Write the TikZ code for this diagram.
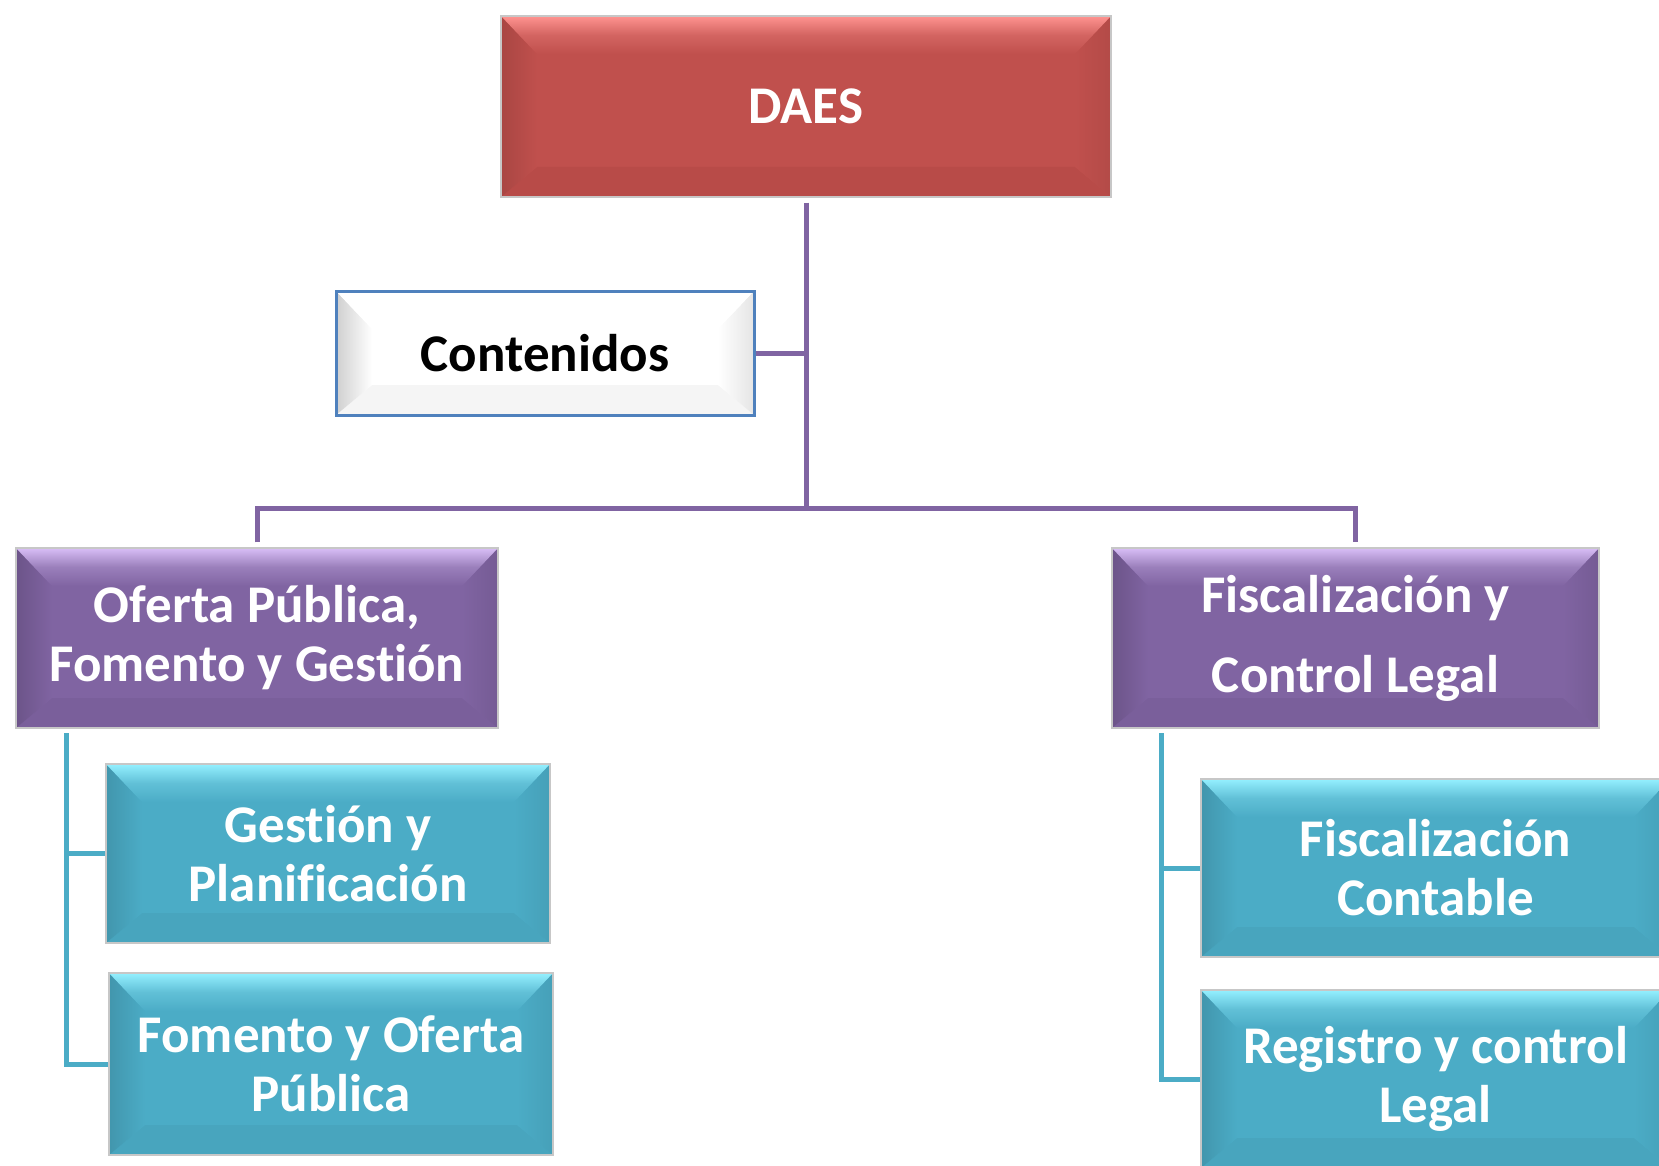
\documentclass[tikz,border=0pt]{standalone}
\usepackage{fontspec}
\setmainfont{Carlito}[Ligatures=NoCommon]
\usetikzlibrary{calc}
\definecolor{redbase}{HTML}{C0504D}
\definecolor{redtop}{HTML}{FF9390}
\definecolor{redside}{HTML}{A94643}
\definecolor{redbot}{HTML}{B84B48}
\definecolor{purbase}{HTML}{8064A2}
\definecolor{purtop}{HTML}{D8BEF6}
\definecolor{purside}{HTML}{6C5489}
\definecolor{purbot}{HTML}{7A5F9B}
\definecolor{cyabase}{HTML}{4BACC6}
\definecolor{cyatop}{HTML}{94F0FF}
\definecolor{cyaside}{HTML}{4296AD}
\definecolor{cyabot}{HTML}{48A5BE}
\definecolor{contbord}{HTML}{4F81BD}
\definecolor{contside}{HTML}{CFCFCF}
\definecolor{lpur}{HTML}{8064A2}
\definecolor{lcya}{HTML}{4BACC6}
\tikzset{
  bevelbox/.style n args={4}{rectangle, inner sep=0pt, fill=#1,
    draw=black!22, line width=1.2pt, align=center,
    font=\fontsize{53}{59}\selectfont\bfseries, text=white,
    path picture={
      \coordinate (pNW) at (path picture bounding box.north west);
      \coordinate (pNE) at (path picture bounding box.north east);
      \coordinate (pSW) at (path picture bounding box.south west);
      \coordinate (pSE) at (path picture bounding box.south east);
      \coordinate (iNW) at ($(pNW)+(36pt,-38pt)$);
      \coordinate (iNE) at ($(pNE)+(-36pt,-38pt)$);
      \coordinate (iSW) at ($(pSW)+(36pt,30pt)$);
      \coordinate (iSE) at ($(pSE)+(-36pt,30pt)$);
      \fill[#4] (pSW) -- (iSW) -- (iSE) -- (pSE) -- cycle;
      \shade[left color=#3, right color=#1] (pNW) -- (iNW) -- (iSW) -- (pSW) -- cycle;
      \shade[left color=#1, right color=#3!55!#1] (pNE) -- (iNE) -- (iSE) -- (pSE) -- cycle;
      \shade[top color=#2, bottom color=#1, middle color=#1!70!#2] (pNW) -- (pNE) -- (iNE) -- (iNW) -- cycle;
    }},
  redbox/.style={bevelbox={redbase}{redtop}{redside}{redbot}},
  purbox/.style={bevelbox={purbase}{purtop}{purside}{purbot}},
  cyabox/.style={bevelbox={cyabase}{cyatop}{cyaside}{cyabot}},
  contbox/.style={bevelbox={white}{white}{contside}{white!96!black}, draw=contbord, line width=3pt, text=black},
  pline/.style={draw=lpur, line width=5pt, line join=miter},
  cline/.style={draw=lcya, line width=5pt, line join=miter}
}
\begin{document}
\begin{tikzpicture}[x=1pt,y=-1pt]
\clip (0,0) rectangle (1659,1166);
\fill[white] (0,0) rectangle (1659,1166);

\node[redbox, minimum width=610pt, minimum height=181pt] (daes) at (806,106.5) {DAES};
\node[contbox, minimum width=418pt, minimum height=124pt] (cont) at (545,353) {Contenidos};
\node[purbox, minimum width=482pt, minimum height=180pt] (ofp) at (257,638) {Oferta Pública,\\Fomento y Gestión};
\node[purbox, minimum width=487pt, minimum height=180pt] (fcl) at (1355.5,638) {Fiscalización y\\[21pt]Control Legal};
\node[cyabox, minimum width=444pt, minimum height=179pt] (gp) at (328,853.5) {Gestión y\\Planificación};
\node[cyabox, minimum width=444pt, minimum height=182pt] (fop) at (331,1064) {Fomento y Oferta\\Pública};
\node[cyabox, minimum width=469pt, minimum height=178pt] (fc) at (1435.5,868) {Fiscalización\\Contable};
\node[cyabox, minimum width=469pt, minimum height=178pt] (rcl) at (1435.5,1079) {Registro y control\\Legal};

\coordinate (jn) at (806,508);
\coordinate (lt) at (66,733);
\coordinate (rt) at (1161,733);

\draw[pline] ([yshift=-5pt]daes.south) -- (jn);
\draw[pline] (cont.east) -- (cont.east -| jn);
\draw[pline] ([yshift=5pt]ofp.north) |- (jn) -| ([yshift=5pt]fcl.north);

\draw[cline] (lt) |- (fop.west);
\draw[cline] (lt |- gp.west) -- (gp.west);
\draw[cline] (rt) |- (rcl.west);
\draw[cline] (rt |- fc.west) -- (fc.west);
\end{tikzpicture}
\end{document}
